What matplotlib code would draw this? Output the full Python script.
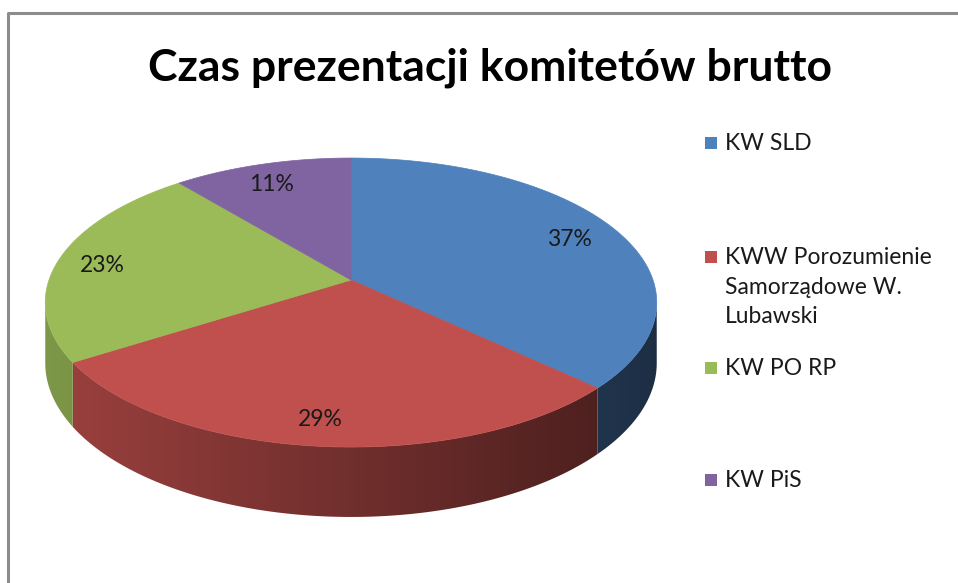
import numpy as np
import matplotlib.pyplot as plt
from matplotlib.patches import Polygon, Rectangle
from matplotlib.colors import to_rgb

# data
parties = ['KW SLD', 'KWW Porozumienie\nSamorządowe W.\nLubawski', 'KW PO RP', 'KW PiS']
shares = [37, 29, 23, 11]
colors = ['#4F81BD', '#C0504D', '#9BBB59', '#8064A2']
title = 'Czas prezentacji komitetów brutto'

plt.rcParams['font.family'] = ['Lato', 'DejaVu Sans']

W, H = 958, 583
fig = plt.figure(figsize=(W / 100, H / 100), dpi=100)
ax = fig.add_axes([0, 0, 1, 1])
ax.set_xlim(0, W)
ax.set_ylim(H, 0)
ax.axis('off')

# chart frame (only top + left edge visible)
ax.plot([8, 8, W + 5], [H + 5, 13, 13], color='#8c8c8c', lw=2.2, solid_capstyle='butt')

# fake 3D pie: perspective projection of a tilted disk
cx, cy = 351, 280      # apex of the slices
a, b = 302, 141        # horizontal / vertical radii
k = 0.156              # perspective strength
depth = 59             # thickness of the pie


def proj(theta, r=1.0, z=0.0):
    u = r * np.sin(theta)
    v = -r * np.cos(theta)
    f = 1.0 / (1.0 - k * v)
    return cx + a * u * f, cy + (b * v + z) * f


fracs = np.array(shares) / sum(shares)
edges = np.concatenate([[0], np.cumsum(fracs)]) * 2 * np.pi

# side walls (visible front part), horizontal gradient clipped to the wall
xg = np.linspace(0, W, 400)
fac = np.clip(0.8 - (xg - 60) / (630 - 60) * 0.42, 0.3, 0.85)
vis0, vis1 = np.arccos(-k), 2 * np.pi - np.arccos(-k)
for i, col in enumerate(colors):
    t0, t1 = max(edges[i], vis0), min(edges[i + 1], vis1)
    if t1 <= t0:
        continue
    ts = np.linspace(t0, t1, 200)
    xt, yt = proj(ts)
    xb, yb = proj(ts[::-1], z=depth)
    wall = Polygon(np.column_stack([np.r_[xt, xb], np.r_[yt, yb]]), closed=True,
                   facecolor='none', edgecolor='none')
    ax.add_patch(wall)
    grad = np.array(to_rgb(col))[None, None, :] * fac[None, :, None]
    im = ax.imshow(grad, extent=[0, W, H, 0], aspect='auto', zorder=2,
                   interpolation='bilinear')
    im.set_clip_path(wall)
ax.set_xlim(0, W)
ax.set_ylim(H, 0)

# top faces
for i, col in enumerate(colors):
    ts = np.linspace(edges[i], edges[i + 1], 200)
    xs, ys = proj(ts)
    pts = np.column_stack([np.r_[cx, xs], np.r_[cy, ys]])
    ax.add_patch(Polygon(pts, closed=True, facecolor=col, edgecolor=col, lw=0.5, zorder=3))

# percent labels
for i in range(len(shares)):
    mid = (edges[i] + edges[i + 1]) / 2
    lx, ly = proj(mid, r=0.84)
    ax.text(lx - 3, ly + 4, f'{shares[i]}%', ha='center', va='center', fontsize=16.5,
            color='#1a1a1a', zorder=5)

# title
ax.text(490, 68, title, ha='center', va='center', fontsize=32, fontweight='bold', color='black')

# legend
leg_y = [143, 257, 368, 480]
for name, col, y in zip(parties, colors, leg_y):
    ax.add_patch(Rectangle((705, y - 6), 12, 12, facecolor=col, edgecolor='none'))
    ax.text(725, y - 10, name, ha='left', va='top', fontsize=16.5, color='#1a1a1a',
            linespacing=1.5)

fig.savefig('out.png', dpi=100)
